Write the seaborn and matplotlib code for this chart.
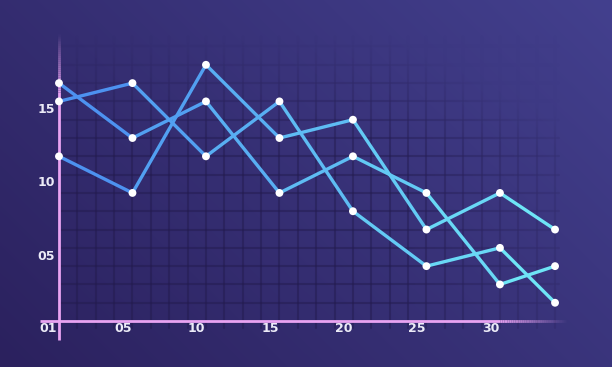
import numpy as np
import pandas as pd
import matplotlib
matplotlib.use("Agg")
import matplotlib.pyplot as plt
import matplotlib.colors as mcolors
import seaborn as sns

# ---- data (grid units) ----
x_pos = [0, 4, 8, 12, 16, 20, 24, 27]
series_a = [9, 7, 14, 10, 11, 5, 7, 5]
series_b = [12, 13, 9, 12, 6, 3, 4, 1]
series_c = [13, 10, 12, 7, 9, 7, 2, 3]
x_tick_labels = ["01", "05", "10", "15", "20", "25", "30"]
x_tick_pos = [-0.6, 3.5, 7.5, 11.5, 15.5, 19.5, 23.5]
y_tick_labels = ["05", "10", "15"]
y_tick_pos = [3.55, 7.55, 11.55]

sns.set_theme(style="white")
plt.rcParams['font.family'] = ['DejaVu Sans']

fig = plt.figure(figsize=(6.12, 3.67), dpi=100)
ax = fig.add_axes([0, 0, 1, 1])
XL = (-3.21, 30.1)
YL = (-2.51, 17.54)
ax.set_xlim(*XL)
ax.set_ylim(*YL)
ax.axis("off")

# background gradient
c0 = np.array(mcolors.to_rgb("#2b215e"))
c1 = np.array(mcolors.to_rgb("#43408e"))
nx, ny = 300, 200
u = np.linspace(0, 1, nx)[None, :]
v = np.linspace(0, 1, ny)[:, None]
t = np.clip(0.62 * u + 0.38 * v, 0, 1)
bg = c0[None, None, :] * (1 - t[..., None]) + c1[None, None, :] * t[..., None]
ax.imshow(bg, extent=[XL[0], XL[1], YL[0], YL[1]], origin="lower",
          aspect="auto", zorder=0, interpolation="bilinear")

# grid
gcol = "#221a4c"
for gx in range(0, 28):
    ax.plot([gx, gx], [-0.4, 15.6], color=gcol, lw=1.5, alpha=0.45, zorder=1)
for gy in range(1, 16):
    ax.plot([0, 27.2], [gy, gy], color=gcol, lw=1.5, alpha=0.45, zorder=1)

# fade overlay (hides grid toward top and right)
xs = np.linspace(XL[0], XL[1], nx)[None, :]
ys = np.linspace(YL[0], YL[1], ny)[:, None]
a = np.clip((ys - 9.5) / 6.0, 0, 1) * 0.95 + np.clip((xs - 18) / 9.5, 0, 1) * 0.7
a = np.clip(a, 0, 0.97)
ov = np.dstack([bg, a * np.ones_like(bg[..., 0])])
ax.imshow(ov, extent=[XL[0], XL[1], YL[0], YL[1]], origin="lower",
          aspect="auto", zorder=1.5, interpolation="bilinear")

# axes lines
pink = "#e9a3f2"
ax.plot([0, 0], [-1.05, 12.5], color=pink, lw=2, zorder=3, solid_capstyle="butt")
n = 30
for i in range(n):
    y0 = 12.5 + i * 3.2 / n
    ax.plot([0, 0], [y0, y0 + 3.2 / n], color=pink, lw=2,
            alpha=1 - (i + 1) / (n + 1), zorder=3, solid_capstyle="butt")
ax.plot([-1.03, 24.0], [0, 0], color=pink, lw=2, zorder=3, solid_capstyle="butt")
for i in range(n):
    x0 = 24.0 + i * 3.6 / n
    ax.plot([x0, x0 + 3.6 / n], [0, 0], color=pink, lw=2,
            alpha=1 - (i + 1) / (n + 1), zorder=3, solid_capstyle="butt")

# lines with blue→cyan gradient (per segment)
cL = np.array(mcolors.to_rgb("#4a8bf0"))
cR = np.array(mcolors.to_rgb("#70eaf6"))
rows = []
for name, vals in [("a", series_a), ("b", series_b), ("c", series_c)]:
    for s in range(len(x_pos) - 1):
        for k in (s, s + 1):
            rows.append({"series": name, "seg": f"{name}{s}", "segi": s,
                         "x": x_pos[k], "y": vals[k]})
df = pd.DataFrame(rows)
seg_cols = {}
for s in range(len(x_pos) - 1):
    tt = ((x_pos[s] + x_pos[s + 1]) / 2) / 27.0
    seg_cols[s] = mcolors.to_hex(cL * (1 - tt) + cR * tt)
pal = {r.seg: seg_cols[r.segi] for r in df.itertuples()}
sns.lineplot(data=df, x="x", y="y", hue="seg", palette=pal, units="seg",
             estimator=None, sort=False, legend=False, lw=2.4, ax=ax,
             zorder=4, solid_capstyle="round")

pts = pd.DataFrame({"x": x_pos * 3, "y": series_a + series_b + series_c})
sns.scatterplot(data=pts, x="x", y="y", color="white", s=32, edgecolor="none",
                ax=ax, zorder=5, legend=False)

ax.set_xlim(*XL)
ax.set_ylim(*YL)

tcol = "#ecebf7"
for xp, lab in zip(x_tick_pos, x_tick_labels):
    ax.text(xp, -0.38, lab, color=tcol, fontsize=9, fontweight="semibold",
            ha="center", va="center", zorder=6)
for yp, lab in zip(y_tick_pos, y_tick_labels):
    ax.text(-0.22, yp, lab, color=tcol, fontsize=9, fontweight="semibold",
            ha="right", va="center", zorder=6)

fig.savefig("out.png", dpi=100)
